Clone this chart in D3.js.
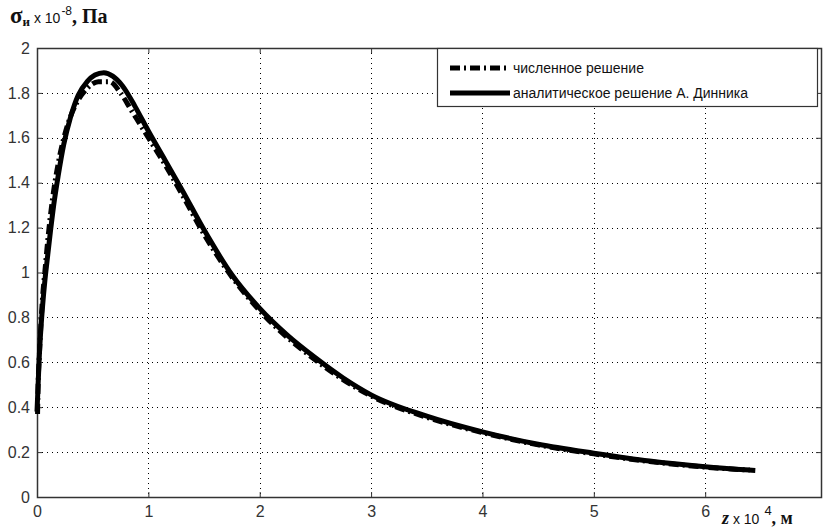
<!DOCTYPE html>
<html>
<head>
<meta charset="utf-8">
<script src="https://cdn.jsdelivr.net/npm/d3@7"></script>
<style>
  body { margin: 0; background: #fff; }
  svg { display: block; }
</style>
</head>
<body>
<svg id="chart" width="824" height="529"></svg>
<script>
// values
const xTicks = [0, 1, 2, 3, 4, 5, 6];
const yTicks = [0, 0.2, 0.4, 0.6, 0.8, 1, 1.2, 1.4, 1.6, 1.8, 2];

const analyticZ = [0, 0.01, 0.02, 0.035, 0.05, 0.07, 0.09, 0.12, 0.15, 0.19, 0.24, 0.3, 0.37, 0.45, 0.52, 0.6, 0.68, 0.77, 0.88, 1.0, 1.15, 1.3, 1.5, 1.75, 2.0, 2.25, 2.5, 2.75, 3.0, 3.5, 4.0, 4.5, 5.0, 5.5, 6.0, 6.4];
const analyticS = [0.38, 0.5, 0.62, 0.75, 0.85, 0.96, 1.05, 1.18, 1.3, 1.43, 1.57, 1.69, 1.79, 1.85, 1.88, 1.89, 1.875, 1.83, 1.74, 1.63, 1.5, 1.37, 1.19, 0.99, 0.84, 0.72, 0.62, 0.53, 0.455, 0.36, 0.29, 0.235, 0.195, 0.16, 0.135, 0.12];

const numericZ = [0.005, 0.01, 0.02, 0.035, 0.05, 0.07, 0.1, 0.14, 0.2, 0.27, 0.35, 0.45, 0.55, 0.65, 0.75, 0.85, 1.0, 1.15, 1.3, 1.5, 1.75, 2.0, 2.5, 3.0, 3.5, 4.0, 4.5, 5.0, 5.5, 6.0, 6.45];
const numericS = [0.37, 0.5, 0.62, 0.77, 0.89, 1.0, 1.16, 1.33, 1.51, 1.65, 1.75, 1.82, 1.85, 1.85, 1.8, 1.72, 1.6, 1.48, 1.35, 1.17, 0.98, 0.83, 0.61, 0.45, 0.355, 0.287, 0.232, 0.192, 0.158, 0.133, 0.118];

const legendLabels = ['численное решение', 'аналитическое решение А. Динника'];

const svg = d3.select('#chart');
const plotLeft = 37, plotRight = 821, plotTop = 48, plotBottom = 497;

const x = d3.scaleLinear().domain([0, 7.04]).range([plotLeft, plotRight]);
const y = d3.scaleLinear().domain([0, 2]).range([plotBottom, plotTop]);

// dotted grid
const grid = svg.append('g')
    .attr('stroke', '#000')
    .attr('stroke-width', 1)
    .attr('stroke-dasharray', '1,4');
grid.selectAll('.gx')
    .data(xTicks.slice(1))
    .join('line')
    .attr('x1', d => Math.round(x(d)) + 0.5).attr('x2', d => Math.round(x(d)) + 0.5)
    .attr('y1', plotTop).attr('y2', plotBottom);
grid.selectAll('.gy')
    .data(yTicks.slice(1, -1))
    .join('line')
    .attr('y1', d => Math.round(y(d)) + 0.5).attr('y2', d => Math.round(y(d)) + 0.5)
    .attr('x1', plotLeft).attr('x2', plotRight);

// axes with inward ticks on all four sides
const axisColor = '#333';
function styleAxis(g) {
    g.select('.domain').remove();
    g.selectAll('line').attr('stroke', axisColor);
    g.selectAll('text')
        .attr('fill', '#333')
        .style('font-family', 'Liberation Sans, Arial, sans-serif')
        .style('font-size', '16px');
}
svg.append('g')
    .attr('transform', `translate(0,${plotBottom})`)
    .call(d3.axisBottom(x).tickValues(xTicks).tickFormat(d3.format('d')).tickSizeInner(-5).tickPadding(9))
    .call(styleAxis);
svg.append('g')
    .attr('transform', `translate(0,${plotTop})`)
    .call(d3.axisTop(x).tickValues(xTicks).tickFormat('').tickSizeInner(-5))
    .call(styleAxis);
svg.append('g')
    .attr('transform', `translate(${plotLeft},0)`)
    .call(d3.axisLeft(y).tickValues(yTicks).tickFormat(d => String(+d.toFixed(1))).tickSizeInner(-5).tickPadding(7))
    .call(styleAxis);
svg.append('g')
    .attr('transform', `translate(${plotRight},0)`)
    .call(d3.axisRight(y).tickValues(yTicks).tickFormat('').tickSizeInner(-5))
    .call(styleAxis);

svg.append('rect')
    .attr('x', plotLeft + 0.5).attr('y', plotTop + 0.5)
    .attr('width', plotRight - plotLeft).attr('height', plotBottom - plotTop)
    .attr('fill', 'none')
    .attr('stroke', axisColor)
    .attr('stroke-width', 1.5);

// curves
const line = d3.line()
    .x(d => x(d[0]))
    .y(d => y(d[1]))
    .curve(d3.curveMonotoneX);

svg.append('path')
    .datum(d3.zip(analyticZ, analyticS))
    .attr('d', line)
    .attr('fill', 'none')
    .attr('stroke', '#000')
    .attr('stroke-width', 5);

svg.append('path')
    .datum(d3.zip(numericZ, numericS))
    .attr('d', line)
    .attr('fill', 'none')
    .attr('stroke', '#000')
    .attr('stroke-width', 5)
    .attr('stroke-dasharray', '10,4,2,4');

// legend
const legend = svg.append('g');
legend.append('rect')
    .attr('x', 437.5).attr('y', 48.5)
    .attr('width', 380).attr('height', 58)
    .attr('fill', '#fff')
    .attr('stroke', axisColor)
    .attr('stroke-width', 1.2);
legendLabels.forEach((label, i) => {
    const ly = 68 + i * 25;
    legend.append('line')
        .attr('x1', 450).attr('x2', 510)
        .attr('y1', ly).attr('y2', ly)
        .attr('stroke', '#000')
        .attr('stroke-width', 5)
        .attr('stroke-dasharray', i === 0 ? '10,4,2,4' : null);
    legend.append('text')
        .attr('x', 513).attr('y', ly + 5)
        .style('font-family', 'Liberation Sans, Arial, sans-serif')
        .style('font-size', '14px')
        .attr('fill', '#111')
        .text(label);
});

// axis titles
const sans = 'Liberation Sans, Arial, sans-serif';
const yTitle = svg.append('text')
    .attr('x', 10).attr('y', 23)
    .attr('fill', '#111')
    .style('font-family', 'Liberation Serif, Times New Roman, serif');
yTitle.append('tspan').style('font-size', '23px').style('font-weight', 'bold').text('σ');
yTitle.append('tspan').style('font-size', '13px').style('font-weight', 'bold').attr('dy', 3).text('и');
yTitle.append('tspan').style('font-size', '14px').style('font-family', sans).attr('dy', -3).text(' x 10');
yTitle.append('tspan').style('font-size', '12px').style('font-family', sans).attr('dx', 1).attr('dy', -8).text('-8');
yTitle.append('tspan').style('font-size', '20px').style('font-weight', 'bold').attr('dy', 8).text(', Па');

const xTitle = svg.append('text')
    .attr('x', 722).attr('y', 524)
    .attr('fill', '#111')
    .style('font-family', 'Liberation Serif, Times New Roman, serif');
xTitle.append('tspan').style('font-size', '18px').style('font-weight', 'bold').style('font-style', 'italic').text('z');
xTitle.append('tspan').style('font-size', '14px').style('font-family', sans).text(' x 10');
xTitle.append('tspan').style('font-size', '13px').style('font-family', sans).attr('dx', 5).attr('dy', -9).text('4');
xTitle.append('tspan').style('font-size', '18px').style('font-weight', 'bold').attr('dy', 9).text(', м');
</script>
</body>
</html>
